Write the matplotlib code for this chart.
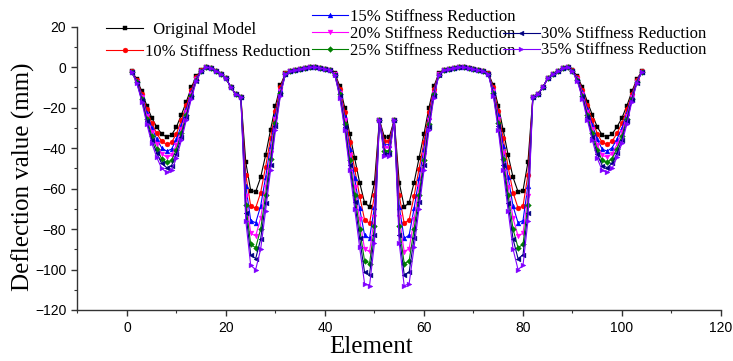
import matplotlib
matplotlib.use("Agg")
import matplotlib.pyplot as plt
from matplotlib.ticker import MultipleLocator

elements = list(range(1, 105))

original = [-2, -6, -12, -19, -25, -29.5, -33, -34.5, -33.5, -29.5, -23.5, -17, -10, -4.5, -1.5, 0, -0.5, -2, -3.5, -5.5, -10, -13.5, -14.5, -47, -61, -61.5, -54.5, -43.5, -31, -19, -9, -3, -2, -1.5, -1, -0.5, 0, 0, -0.5, -1, -1.5, -3, -9.5, -20, -33, -45, -57, -67, -69, -57, -26, -34.5,
            -34.5, -26, -57, -69, -67, -57, -45, -33, -20, -9.5, -3, -1.5, -1, -0.5, 0, 0, -0.5, -1, -1.5, -2, -3, -9, -19, -31, -43.5, -54.5, -61.5, -61, -47, -14.5, -13.5, -10, -5.5, -3.5, -2, -0.5, 0, -1.5, -4.5, -10, -17, -23.5, -29.5, -33.5, -34.5, -33, -29.5, -25, -19, -12, -6, -2]
red10 = [-2.1, -6.4, -13.1, -20.9, -27.6, -32.7, -36.6, -38.2, -37.2, -32.8, -26.1, -18.9, -11.2, -5, -1.6, 0, -0.5, -2, -3.5, -5.5, -10, -13.5, -14.5, -53.1, -68.8, -69.6, -62, -49.3, -35.2, -21.5, -10, -3.1, -2, -1.5, -1, -0.5, 0, 0, -0.5, -1, -1.5, -3.2, -10.7, -22.3, -36.8, -50.3, -63.7, -75.4, -77.2, -63.3, -26, -36.5,
         -36.5, -26, -63.3, -77.2, -75.4, -63.7, -50.3, -36.8, -22.3, -10.7, -3.2, -1.5, -1, -0.5, 0, 0, -0.5, -1, -1.5, -2, -3.1, -10, -21.5, -35.2, -49.3, -62, -69.6, -68.8, -53.1, -14.5, -13.5, -10, -5.5, -3.5, -2, -0.5, 0, -1.6, -5, -11.2, -18.9, -26.1, -32.8, -37.2, -38.2, -36.6, -32.7, -27.6, -20.9, -13.1, -6.4, -2.1]
red15 = [-2.2, -6.8, -14, -22.6, -30, -35.5, -39.8, -41.5, -40.5, -35.7, -28.5, -20.6, -12.2, -5.5, -1.7, 0, -0.5, -2, -3.5, -5.5, -10, -13.5, -14.5, -58.6, -75.8, -76.9, -68.7, -54.5, -39, -23.8, -11, -3.2, -2, -1.5, -1, -0.5, 0, 0, -0.5, -1, -1.5, -3.4, -11.7, -24.4, -40.2, -55, -69.8, -83, -84.6, -69, -26, -38.3,
         -38.3, -26, -69, -84.6, -83, -69.8, -55, -40.2, -24.4, -11.7, -3.4, -1.5, -1, -0.5, 0, 0, -0.5, -1, -1.5, -2, -3.2, -11, -23.8, -39, -54.5, -68.7, -76.9, -75.8, -58.6, -14.5, -13.5, -10, -5.5, -3.5, -2, -0.5, 0, -1.7, -5.5, -12.2, -20.6, -28.5, -35.7, -40.5, -41.5, -39.8, -35.5, -30, -22.6, -14, -6.8, -2.2]
red20 = [-2.3, -7.1, -14.9, -24.1, -32.1, -38.1, -42.7, -44.5, -43.5, -38.3, -30.6, -22.1, -13.1, -5.9, -1.8, 0, -0.5, -2, -3.5, -5.5, -10, -13.5, -14.5, -63.5, -82.1, -83.4, -74.7, -59.2, -42.4, -25.8, -11.9, -3.3, -2, -1.5, -1, -0.5, 0, 0, -0.5, -1, -1.5, -3.6, -12.6, -26.3, -43.3, -59.3, -75.2, -89.8, -91.2, -74.1, -26, -39.9,
         -39.9, -26, -74.1, -91.2, -89.8, -75.2, -59.3, -43.3, -26.3, -12.6, -3.6, -1.5, -1, -0.5, 0, 0, -0.5, -1, -1.5, -2, -3.3, -11.9, -25.8, -42.4, -59.2, -74.7, -83.4, -82.1, -63.5, -14.5, -13.5, -10, -5.5, -3.5, -2, -0.5, 0, -1.8, -5.9, -13.1, -22.1, -30.6, -38.3, -43.5, -44.5, -42.7, -38.1, -32.1, -24.1, -14.9, -7.1, -2.3]
red25 = [-2.4, -7.4, -15.6, -25.5, -34, -40.3, -45.2, -47.1, -46.1, -40.7, -32.5, -23.5, -14, -6.3, -1.9, 0, -0.5, -2, -3.5, -5.5, -10, -13.5, -14.5, -67.9, -87.6, -89.2, -80.1, -63.3, -45.4, -27.6, -12.6, -3.4, -2, -1.5, -1, -0.5, 0, 0, -0.5, -1, -1.5, -3.7, -13.5, -27.9, -46, -63, -80, -95.8, -97.1, -78.6, -26, -41.3,
         -41.3, -26, -78.6, -97.1, -95.8, -80, -63, -46, -27.9, -13.5, -3.7, -1.5, -1, -0.5, 0, 0, -0.5, -1, -1.5, -2, -3.4, -12.6, -27.6, -45.4, -63.3, -80.1, -89.2, -87.6, -67.9, -14.5, -13.5, -10, -5.5, -3.5, -2, -0.5, 0, -1.9, -6.3, -14, -23.5, -32.5, -40.7, -46.1, -47.1, -45.2, -40.3, -34, -25.5, -15.6, -7.4, -2.4]
red30 = [-2.4, -7.7, -16.3, -26.7, -35.8, -42.4, -47.6, -49.6, -48.6, -42.8, -34.3, -24.7, -14.7, -6.7, -1.9, 0, -0.5, -2, -3.5, -5.5, -10, -13.5, -14.5, -71.9, -92.8, -94.6, -85, -67.2, -48.2, -29.3, -13.3, -3.4, -2, -1.5, -1, -0.5, 0, 0, -0.5, -1, -1.5, -3.9, -14.2, -29.5, -48.5, -66.5, -84.5, -101.4, -102.5, -82.8, -26, -42.7,
         -42.7, -26, -82.8, -102.5, -101.4, -84.5, -66.5, -48.5, -29.5, -14.2, -3.9, -1.5, -1, -0.5, 0, 0, -0.5, -1, -1.5, -2, -3.4, -13.3, -29.3, -48.2, -67.2, -85, -94.6, -92.8, -71.9, -14.5, -13.5, -10, -5.5, -3.5, -2, -0.5, 0, -1.9, -6.7, -14.7, -24.7, -34.3, -42.8, -48.6, -49.6, -47.6, -42.4, -35.8, -26.7, -16.3, -7.7, -2.4]
red35 = [-2.5, -8, -17, -28, -37.5, -44.5, -50, -52, -51, -45, -36, -26, -15.5, -7, -2, 0, -0.5, -2, -3.5, -5.5, -10, -13.5, -14.5, -76, -98, -100, -90, -71, -51, -31, -14, -3.5, -2, -1.5, -1, -0.5, 0, 0, -0.5, -1, -1.5, -4, -15, -31, -51, -70, -89, -107, -108, -87, -26, -44,
         -44, -26, -87, -108, -107, -89, -70, -51, -31, -15, -4, -1.5, -1, -0.5, 0, 0, -0.5, -1, -1.5, -2, -3.5, -14, -31, -51, -71, -90, -100, -98, -76, -14.5, -13.5, -10, -5.5, -3.5, -2, -0.5, 0, -2, -7, -15.5, -26, -36, -45, -51, -52, -50, -44.5, -37.5, -28, -17, -8, -2.5]

labels = ["  Original Model", "10% Stiffness Reduction", "15% Stiffness Reduction",
          "20% Stiffness Reduction", "25% Stiffness Reduction",
          "30% Stiffness Reduction", "35% Stiffness Reduction"]
series = [original, red10, red15, red20, red25, red30, red35]
colors = ["#000000", "#FF0000", "#0000FF", "#FF00FF", "#008000", "#000080", "#8000FF"]
markers = ["s", "o", "^", "v", "D", "<", ">"]

serif = "Liberation Serif"
sans = "Liberation Sans"

fig = plt.figure(figsize=(7.33, 3.61), dpi=100)
ax = fig.add_axes([0.1057, 0.1413, 0.8779, 0.7847])

lines = []
for ys, c, m, lab in zip(series, colors, markers, labels):
    ms = 2.9 if m == "D" else 3.5
    ln, = ax.plot(elements, ys, color=c, marker=m, markersize=ms, lw=0.8,
                  markeredgewidth=0.3, label=lab)
    lines.append(ln)

ax.set_xlim(-10, 120)
ax.set_ylim(-120, 20)
ax.xaxis.set_major_locator(MultipleLocator(20))
ax.xaxis.set_minor_locator(MultipleLocator(10))
ax.yaxis.set_major_locator(MultipleLocator(20))
ax.yaxis.set_minor_locator(MultipleLocator(10))
ax.spines["top"].set_visible(False)
ax.spines["right"].set_visible(False)
for s in ["left", "bottom"]:
    ax.spines[s].set_linewidth(1.0)
    ax.spines[s].set_color("#333333")
ax.tick_params(which="major", direction="out", length=4, width=1.0, color="#333333", pad=4)
ax.tick_params(which="minor", direction="out", length=2.5, width=0.8, color="#333333")
for t in ax.get_xticklabels() + ax.get_yticklabels():
    t.set_fontfamily(sans)
    t.set_fontsize(10)

ax.set_xlabel("Element", fontfamily=serif, fontsize=18)
ax.set_ylabel("Deflection value (mm)", fontfamily=serif, fontsize=18)
ax.xaxis.set_label_coords(0.456, -0.092)
ax.yaxis.set_label_coords(-0.066, 0.47)

lkw = dict(frameon=False, loc="upper left", borderpad=0, borderaxespad=0,
           handlelength=2.2, handletextpad=0.1, prop={"family": serif, "size": 12})
leg1 = fig.legend(lines[0:2], labels[0:2], bbox_to_anchor=(0.145, 0.94),
                  labelspacing=0.38, **lkw)
leg2 = fig.legend(lines[2:5], labels[2:5], bbox_to_anchor=(0.425, 0.975),
                  labelspacing=0.05, **lkw)
leg3 = fig.legend(lines[5:7], labels[5:7], bbox_to_anchor=(0.686, 0.927),
                  labelspacing=0.0, **lkw)

fig.savefig("out.png", dpi=100)
